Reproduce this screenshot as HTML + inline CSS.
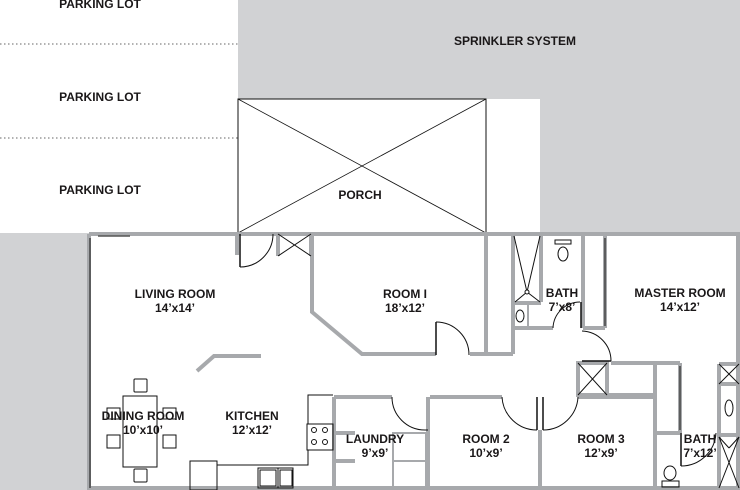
<!DOCTYPE html>
<html><head><meta charset="utf-8"><style>
html,body{margin:0;padding:0;background:#fff}
svg{display:block}
text{font-family:"Liberation Sans",Arial,sans-serif;font-weight:bold;font-size:12px;fill:#1a1718;text-anchor:middle}
</style></head><body>
<svg width="740" height="490" viewBox="0 0 740 490" xmlns="http://www.w3.org/2000/svg">
<rect x="238" y="0" width="502" height="99" fill="#d1d2d4"/>
<rect x="540" y="99" width="200" height="135" fill="#d1d2d4"/>
<rect x="0" y="233" width="89" height="257" fill="#d1d2d4"/>
<rect x="89" y="234" width="651" height="256" fill="#fff"/>
<line x1="0" y1="44" x2="238" y2="44" stroke="#333" stroke-width="0.8" stroke-dasharray="1.5,2.5"/>
<line x1="0" y1="138" x2="238" y2="138" stroke="#333" stroke-width="0.8" stroke-dasharray="1.5,2.5"/>
<rect x="238" y="99" width="248" height="134" fill="#fff" stroke="#111" stroke-width="1"/>
<line x1="238" y1="99" x2="486" y2="233" stroke="#111" stroke-width="0.8"/>
<line x1="486" y1="99" x2="238" y2="233" stroke="#111" stroke-width="0.8"/>

<g stroke="#a7a9ac" stroke-width="4" fill="none">
<line x1="89" y1="234" x2="740" y2="234"/>
<line x1="89" y1="234" x2="89" y2="490"/>
<line x1="89" y1="488" x2="740" y2="488"/>
<line x1="738" y1="234" x2="738" y2="490"/>
<line x1="237" y1="234" x2="237" y2="255"/>
<line x1="278" y1="234" x2="278" y2="256"/>
<line x1="311" y1="234" x2="311" y2="256"/>
<polyline points="312,234 312,312 362,354 436,354"/>
<line x1="470" y1="354" x2="513" y2="354"/>
<line x1="486" y1="234" x2="486" y2="354"/>
<line x1="513" y1="234" x2="513" y2="354"/>
<polyline points="197,371 214,356 261,356"/>
<line x1="541" y1="234" x2="541" y2="302"/>
<line x1="513" y1="303" x2="541" y2="303"/>
<line x1="513" y1="328" x2="553" y2="328"/>
<line x1="528" y1="303" x2="528" y2="328" stroke-width="2"/>
<line x1="583" y1="234" x2="583" y2="328"/>
<line x1="583" y1="328" x2="605" y2="328"/>
<line x1="605" y1="234" x2="605" y2="328"/>
<line x1="611" y1="363" x2="680" y2="363"/>
<rect x="578" y="363" width="29" height="32"/>
<line x1="607" y1="395" x2="655" y2="395"/>
<line x1="655" y1="363" x2="655" y2="490"/>
<line x1="680" y1="363" x2="680" y2="433"/>
<line x1="655" y1="433" x2="680" y2="433"/>
<line x1="719" y1="364" x2="739" y2="364"/>
<line x1="719" y1="384" x2="739" y2="384"/>
<line x1="719" y1="364" x2="719" y2="490"/>
<line x1="719" y1="435" x2="739" y2="435"/>
<line x1="334" y1="397" x2="392" y2="397"/>
<line x1="334" y1="397" x2="334" y2="490"/>
<line x1="335" y1="433" x2="355" y2="433"/>
<line x1="335" y1="461" x2="355" y2="461"/>
<line x1="428" y1="397" x2="428" y2="490"/>
<line x1="430" y1="397" x2="502" y2="397"/>
<line x1="540" y1="430" x2="540" y2="490"/>
<line x1="578" y1="397" x2="655" y2="397"/>
<rect x="393" y="433" width="33" height="28" stroke-width="2"/>
<rect x="393" y="461" width="33" height="28" stroke-width="2"/>
</g>

<g stroke="#111" stroke-width="1" fill="none">
<line x1="90" y1="238" x2="90" y2="488" stroke-width="1"/>
<line x1="98" y1="236" x2="130" y2="236" stroke="#555" stroke-width="1.5"/>
<line x1="240" y1="234" x2="240" y2="267" stroke-width="1.5"/>
<path d="M240,267 A33,33 0 0 0 273,234"/>
<line x1="278" y1="234" x2="311" y2="256"/><line x1="311" y1="234" x2="278" y2="256"/>
<line x1="436" y1="322" x2="436" y2="355" stroke-width="1.5"/>
<path d="M436,322 A33,33 0 0 1 469,355"/>
<polyline points="514,236 527,292 540,236"/>
<polyline points="515,302 527,292 540,302"/>
<circle cx="527" cy="292" r="2" fill="#fff"/>
<ellipse cx="520" cy="316" rx="4" ry="6"/>
<rect x="555" y="240" width="16" height="4"/>
<ellipse cx="563" cy="254" rx="5" ry="7"/>
<line x1="581" y1="302" x2="581" y2="328" stroke-width="1.5"/>
<path d="M553,328 A27,27 0 0 1 580,302"/>
<line x1="605" y1="238" x2="605" y2="326" stroke-width="1"/>
<line x1="582" y1="361" x2="611" y2="361" stroke-width="1.5"/>
<path d="M582,331 A30,30 0 0 1 611,361"/>
<line x1="578" y1="363" x2="607" y2="395"/><line x1="607" y1="363" x2="578" y2="395"/>
<line x1="680" y1="366" x2="680" y2="430" stroke-width="1"/>
<line x1="719" y1="364" x2="739" y2="384"/><line x1="739" y1="364" x2="719" y2="384"/>
<ellipse cx="729" cy="408" rx="4" ry="8"/>
<line x1="719" y1="437" x2="739" y2="488"/><line x1="739" y1="437" x2="719" y2="488"/>
<line x1="719" y1="437" x2="729" y2="448"/><line x1="739" y1="437" x2="729" y2="448"/>
<line x1="681" y1="433" x2="681" y2="466" stroke-width="1.5"/>
<path d="M681,466 A35,35 0 0 0 716,433"/>
<ellipse cx="670" cy="473" rx="6" ry="7"/>
<rect x="662" y="481" width="17" height="6"/>
<path d="M392,397 A33,33 0 0 0 425,430"/>
<line x1="425" y1="430" x2="428" y2="430"/>
<path d="M502,397 A35,35 0 0 0 537,430"/>
<line x1="537" y1="397" x2="537" y2="430" stroke-width="1.5"/>
<line x1="543" y1="397" x2="543" y2="430" stroke-width="1.5"/>
<path d="M543,430 A35,35 0 0 0 578,397"/>
<polyline points="308,424 308,395 333,395"/>
<rect x="307" y="424" width="26" height="26"/>
<circle cx="314" cy="430" r="2.5"/><circle cx="325" cy="430" r="2.5"/>
<circle cx="314" cy="442" r="2.5"/><circle cx="325" cy="442" r="2.5"/>
<polyline points="308,450 308,465 217,465"/>
<rect x="190" y="461" width="27" height="29"/>
<rect x="258" y="468" width="35" height="20"/>
<line x1="278" y1="468" x2="278" y2="488"/>
<rect x="260" y="470" width="16" height="16"/><rect x="280" y="470" width="12" height="16"/>
<rect x="123" y="396" width="34" height="71"/>
<rect x="134" y="379" width="13" height="13" rx="1"/>
<rect x="134" y="469" width="13" height="13" rx="1"/>
<rect x="107" y="408" width="13" height="11"/>
<rect x="107" y="435" width="13" height="13"/>
<rect x="163" y="408" width="13" height="11"/>
<rect x="163" y="435" width="13" height="13"/>
</g>

<text x="100" y="8">PARKING LOT</text>
<text x="100" y="101">PARKING LOT</text>
<text x="100" y="194">PARKING LOT</text>
<text x="515" y="45">SPRINKLER SYSTEM</text>
<text x="360" y="199">PORCH</text>
<text x="175" y="298">LIVING ROOM</text><text x="175" y="312">14’x14’</text>
<text x="405" y="298">ROOM I</text><text x="405" y="312">18’x12’</text>
<text x="562" y="297">BATH</text><text x="562" y="311">7’x8’</text>
<text x="680" y="297">MASTER ROOM</text><text x="680" y="311">14’x12’</text>
<text x="143" y="420">DINING ROOM</text><text x="143" y="434">10’x10’</text>
<text x="252" y="420">KITCHEN</text><text x="252" y="434">12’x12’</text>
<text x="375" y="443">LAUNDRY</text><text x="375" y="457">9’x9’</text>
<text x="486" y="443">ROOM 2</text><text x="486" y="457">10’x9’</text>
<text x="601" y="443">ROOM 3</text><text x="601" y="457">12’x9’</text>
<text x="700" y="443">BATH</text><text x="700" y="457">7’x12’</text>
</svg>
</body></html>
